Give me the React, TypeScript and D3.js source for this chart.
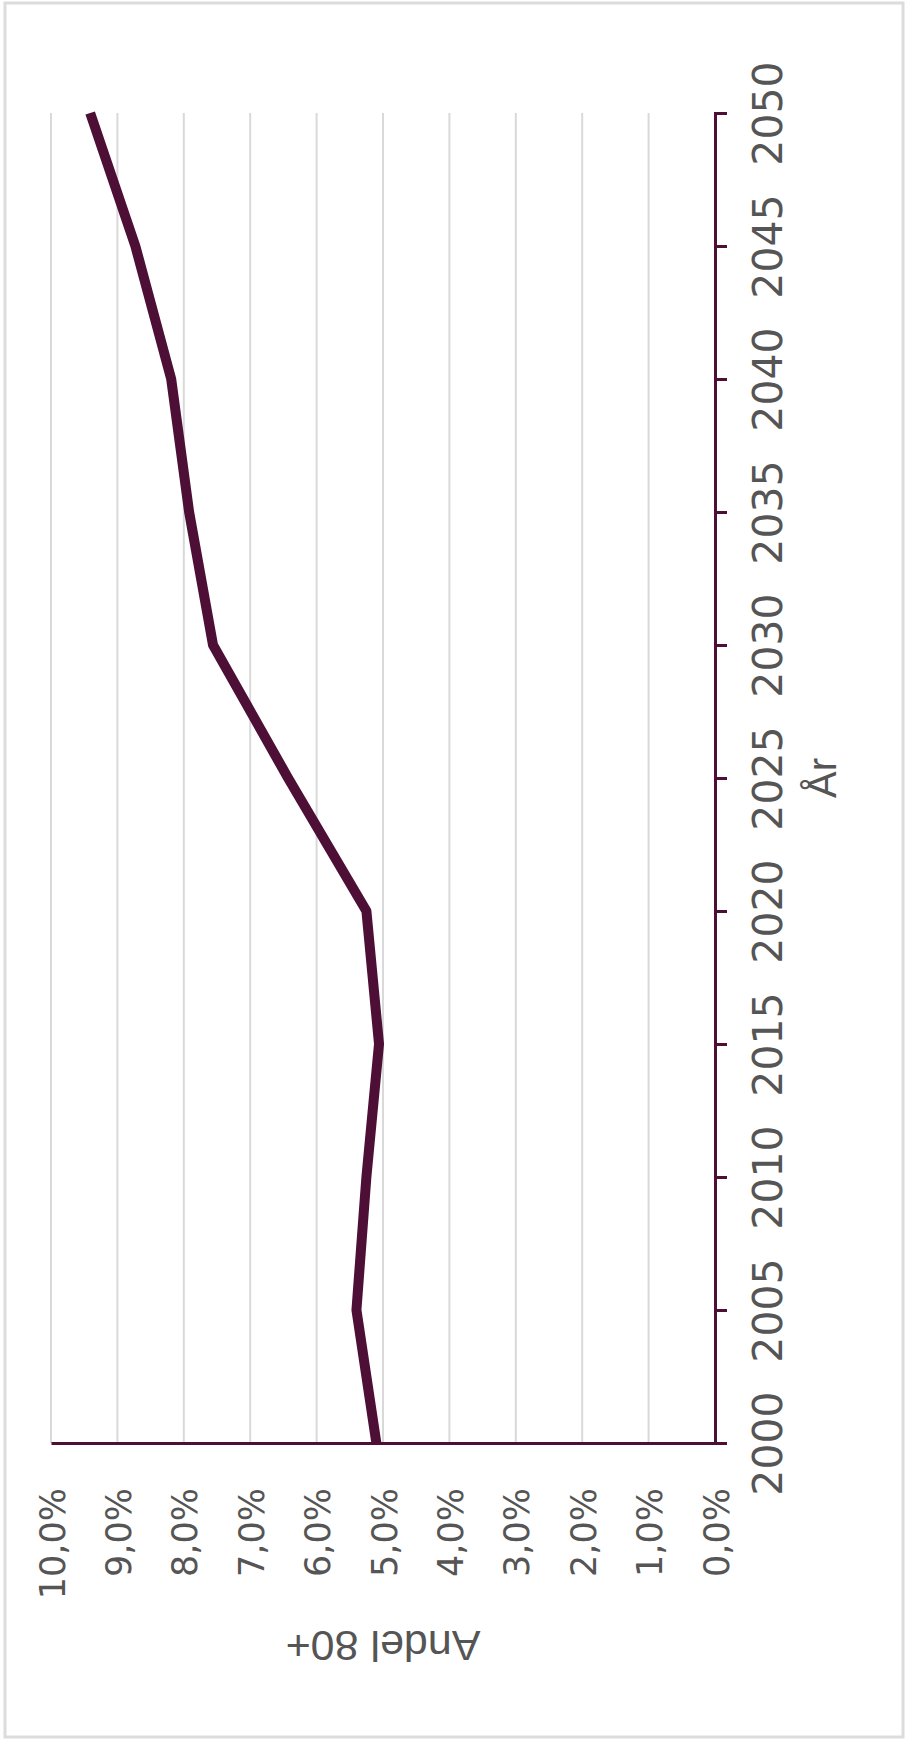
import * as d3 from "d3";
import React, { useEffect, useRef } from "react";

// Andel 80+ av befolkningen, per år (chart is drawn turned a quarter turn)
const years = [2000, 2005, 2010, 2015, 2020, 2025, 2030, 2035, 2040, 2045, 2050];
const shares = [5.1, 5.4, 5.25, 5.06, 5.25, 6.43, 7.56, 7.92, 8.19, 8.73, 9.41];
const yearTicks = [2000, 2005, 2010, 2015, 2020, 2025, 2030, 2035, 2040, 2045, 2050];
const pctTicks = [0, 1, 2, 3, 4, 5, 6, 7, 8, 9, 10];

const W = 905;
const H = 1742;

const Chart: React.FC = () => {
  const ref = useRef<SVGSVGElement>(null);

  useEffect(() => {
    if (!ref.current) return;
    const svg = d3.select(ref.current);
    svg.selectAll("*").remove();

    const purple = "#4e0f36";
    const textColor = "#555555";
    const tickFont = "'DejaVu Sans', sans-serif";

    // outer frame
    svg
      .append("rect")
      .attr("x", 5)
      .attr("y", 3)
      .attr("width", 898)
      .attr("height", 1734)
      .attr("fill", "#fff")
      .attr("stroke", "#dcdcdc")
      .attr("stroke-width", 3);

    // years run up the right side, percent runs right-to-left
    const yScale = d3.scaleLinear().domain([2000, 2050]).range([1443, 113]);
    const xScale = d3.scaleLinear().domain([0, 10]).range([715, 51]);

    // gridlines
    svg
      .append("g")
      .selectAll("line")
      .data(pctTicks.filter((t) => t > 0))
      .enter()
      .append("line")
      .attr("x1", (d) => xScale(d))
      .attr("x2", (d) => xScale(d))
      .attr("y1", yScale(2050))
      .attr("y2", yScale(2000))
      .attr("stroke", "#d9d9d9")
      .attr("stroke-width", 2);

    // percent axis (bottom of picture)
    const pctAxis = svg
      .append("g")
      .attr("transform", `translate(0,${yScale(2000)})`)
      .call(
        d3
          .axisBottom(xScale)
          .tickValues(pctTicks)
          .tickSize(0)
          .tickFormat((d) => `${(d as number).toFixed(1).replace(".", ",")}%`)
      );
    pctAxis.select(".domain").attr("stroke", purple).attr("stroke-width", 3);
    pctAxis
      .selectAll("text")
      .attr("y", 0)
      .attr("dy", 0)
      .attr("transform", "translate(13,45) rotate(-90)")
      .attr("text-anchor", "end")
      .attr("fill", textColor)
      .style("font-family", tickFont)
      .style("font-size", "35px");

    // year axis (right side of picture)
    const yearAxis = svg
      .append("g")
      .attr("transform", `translate(${xScale(0)},0)`)
      .call(d3.axisRight(yScale).tickValues(yearTicks).tickSize(12).tickFormat(d3.format("d")));
    yearAxis.select(".domain").attr("stroke", purple).attr("stroke-width", 3);
    yearAxis.selectAll("line").attr("stroke", purple).attr("stroke-width", 3);
    yearAxis
      .selectAll("text")
      .attr("x", 0)
      .attr("dy", 0)
      .attr("transform", "translate(67,0) rotate(-90)")
      .attr("text-anchor", "middle")
      .attr("fill", textColor)
      .style("font-family", tickFont)
      .style("font-size", "41px");

    // axis titles
    svg
      .append("text")
      .attr("transform", `translate(${(xScale(0) + xScale(10)) / 2},1631) rotate(180)`)
      .attr("text-anchor", "middle")
      .attr("fill", textColor)
      .style("font-family", "'Liberation Sans', Arial, sans-serif")
      .style("font-size", "43px")
      .text("Andel 80+");

    svg
      .append("text")
      .attr("transform", `translate(836,${(yScale(2000) + yScale(2050)) / 2}) rotate(-90)`)
      .attr("text-anchor", "middle")
      .attr("fill", textColor)
      .style("font-family", "'Liberation Sans', Arial, sans-serif")
      .style("font-size", "40px")
      .text("År");

    // the line
    const pts = years.map((y, i) => ({ year: y, v: shares[i] }));
    const line = d3
      .line<{ year: number; v: number }>()
      .x((d) => xScale(d.v))
      .y((d) => yScale(d.year));

    svg
      .append("path")
      .datum(pts)
      .attr("d", line)
      .attr("fill", "none")
      .attr("stroke", purple)
      .attr("stroke-width", 10)
      .attr("stroke-linejoin", "round");
  }, []);

  return (
    <svg
      ref={ref}
      width={W}
      height={H}
      style={{ position: "absolute", left: 0, top: 0, background: "#fff" }}
    ></svg>
  );
};

export default function App() {
  return <Chart />;
}
